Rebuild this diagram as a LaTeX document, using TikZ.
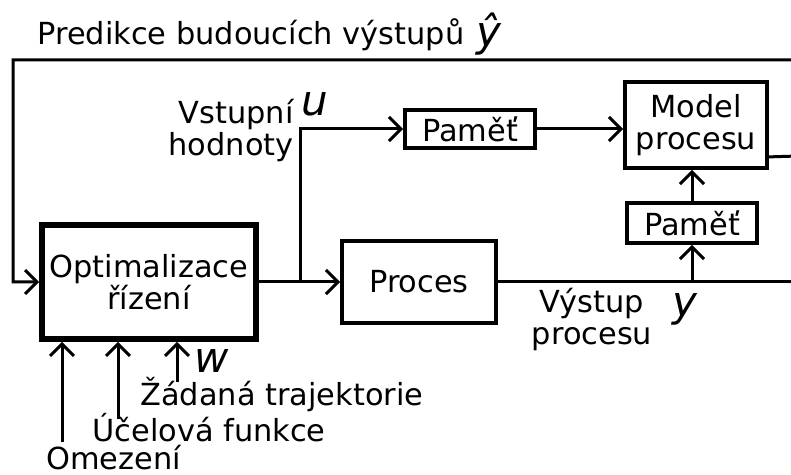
\documentclass[tikz,border=0pt]{standalone}
\usepackage{fontspec}
\setmainfont{DejaVu Sans}
\usetikzlibrary{arrows.meta,positioning,calc}
\tikzset{
  blk/.style={draw, line width=1.9pt, inner sep=2pt, align=center},
  ln/.style={line width=1.5pt},
  arr/.style={ln, -{Straight Barb[length=6pt, width=12pt, line width=1.5pt]}},
  lbl/.style={inner sep=0pt, align=center},
  var/.style={lbl, font=\fontsize{21}{21}\selectfont\itshape},
}

\begin{document}
\begin{tikzpicture}[x=0.5pt, y=-0.5pt, font=\fontsize{15.2}{16}\selectfont]
  \useasboundingbox (0,0) rectangle (791,475);
  \clip (0,0) rectangle (791,475);
  % bloky
  \node[blk, line width=2.8pt, minimum width=107pt, minimum height=57pt] (opt) at (149,282) {Optimalizace\\řízení};
  \node[blk, minimum width=77pt, minimum height=41pt] (proc) at (419,282) {Proces};
  \node[blk, minimum width=65pt, minimum height=19pt] (mem1) at (470,129) {Paměť};
  \node[blk, minimum width=71pt, minimum height=43pt] (model) at (696,125) {Model\\procesu};
  \node[blk, minimum width=65pt, minimum height=20pt] (mem2) at (692,223) {Paměť};
  % uzly na vedeni
  \coordinate (j1) at (300,282);
  \coordinate (j2) at (proc.east -| mem2);
  \coordinate (out) at (806,282);
  \coordinate (mo) at ($(model.south east)+(0,-13)$);
  \coordinate (rc) at (830,155);
  \coordinate (tl) at (13,60);
  % vedeni
  \draw[ln] (opt.east) -- (j1);
  \draw[arr] (j1) -- (proc.west);
  \draw[arr] (j1) |- (mem1.west);
  \draw[arr] (mem1.east) -- (mem1.east -| model.west);
  \draw[arr] (proc.east) -- (out);
  \draw[arr] (j2) -- (mem2.south);
  \draw[arr] (mem2.north) -- (mem2.north |- model.south);
  \draw[arr] (mo) -- (rc) |- (tl) |- (opt.west);
  % popisky
  \node[lbl, anchor=base west] (pred) at (37,45) {Predikce budoucích výstupů};
  \node[var] (yhat) at (489,34) {\^{y}};
  \node[lbl, align=right, anchor=east] (vst) at (294,131) {Vstupní\\hodnoty};
  \node[var] (u) at (315,104) {u};
  \node[lbl] (vyst) at (592,320) {Výstup\\procesu};
  \node[var] (y) at (685,309) {y};
  \node[var] (w) at (212,361) {w};
  \node[lbl, anchor=base west] (zad) at (140,405) {Žádaná trajektorie};
  \node[lbl, anchor=base west] (ucel) at (92,441) {Účelová funkce};
  \node[lbl, anchor=base west] (omez) at (46,469) {Omezení};
  % vstupy zdola
  \coordinate (c1) at (62,442);
  \coordinate (c2) at (118,419);
  \coordinate (c3) at (177,382);
  \draw[arr] (c1) -- (c1 |- opt.south);
  \draw[arr] (c2) -- (c2 |- opt.south);
  \draw[arr] (c3) -- (c3 |- opt.south);
\end{tikzpicture}
\end{document}
